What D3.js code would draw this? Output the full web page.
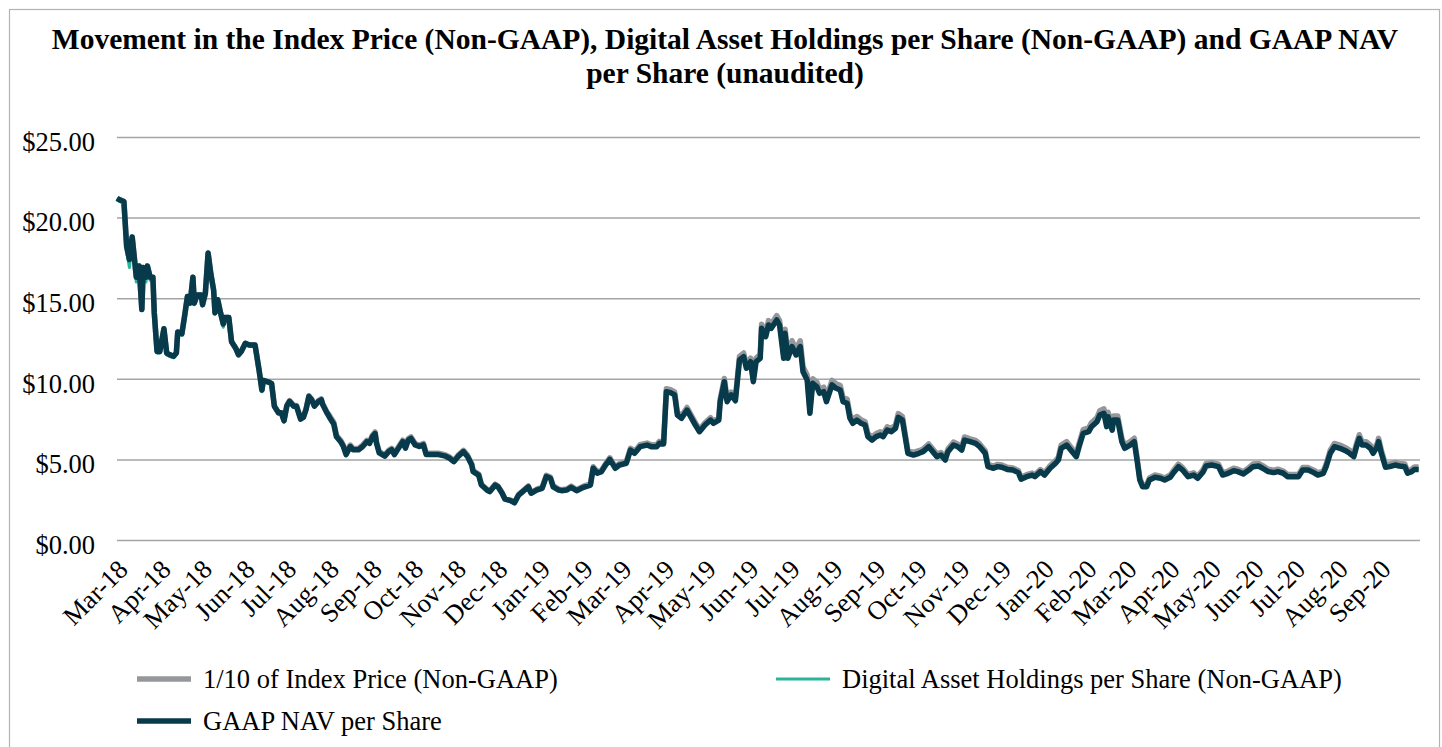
<!DOCTYPE html>
<html>
<head>
<meta charset="utf-8">
<script src="https://cdn.jsdelivr.net/npm/d3@7"></script>
<style>
  body { margin: 0; background: #fff; }
  svg { display: block; font-family: "Liberation Serif", "Times New Roman", serif; }
</style>
</head>
<body>
<svg id="chart" width="1442" height="747"></svg>
<script>
// ---- data ----
const dates = [
  // 2018
  "2018-03-01","2018-03-03","2018-03-06","2018-03-08","2018-03-10","2018-03-12","2018-03-15","2018-03-17","2018-03-19","2018-03-20","2018-03-22","2018-03-23","2018-03-25","2018-03-27","2018-03-28","2018-03-30",
  "2018-04-01","2018-04-04","2018-04-06","2018-04-08","2018-04-11","2018-04-13","2018-04-14","2018-04-17","2018-04-19","2018-04-21","2018-04-23","2018-04-25","2018-04-26","2018-04-28",
  "2018-05-01","2018-05-02","2018-05-04","2018-05-06","2018-05-08","2018-05-10","2018-05-11","2018-05-13","2018-05-15","2018-05-17","2018-05-18","2018-05-21","2018-05-23","2018-05-26","2018-05-28","2018-05-30",
  "2018-06-02","2018-06-05","2018-06-09","2018-06-12","2018-06-14","2018-06-15","2018-06-19","2018-06-21","2018-06-23","2018-06-26","2018-06-28","2018-06-30",
  "2018-07-02","2018-07-04","2018-07-07","2018-07-09","2018-07-12","2018-07-14","2018-07-16","2018-07-18","2018-07-20","2018-07-22","2018-07-25","2018-07-27","2018-07-28","2018-07-31",
  "2018-08-02","2018-08-05","2018-08-07","2018-08-10","2018-08-12","2018-08-14","2018-08-17","2018-08-19","2018-08-23","2018-08-26","2018-08-29","2018-08-31",
  "2018-09-02","2018-09-04","2018-09-05","2018-09-07","2018-09-11","2018-09-14","2018-09-16","2018-09-18","2018-09-21","2018-09-24","2018-09-26","2018-09-28","2018-09-30",
  "2018-10-03","2018-10-06","2018-10-09","2018-10-11","2018-10-15","2018-10-20","2018-10-25","2018-10-28","2018-10-31",
  "2018-11-03","2018-11-07","2018-11-10","2018-11-13","2018-11-14","2018-11-18","2018-11-20","2018-11-24","2018-11-26","2018-11-30",
  "2018-12-02","2018-12-05","2018-12-07","2018-12-11","2018-12-14","2018-12-17","2018-12-20","2018-12-24","2018-12-26","2018-12-30",
  // 2019
  "2019-01-03","2019-01-06","2019-01-09","2019-01-11","2019-01-15","2019-01-17","2019-01-21","2019-01-24","2019-01-28",
  "2019-02-02","2019-02-07","2019-02-09","2019-02-12","2019-02-15","2019-02-18","2019-02-21","2019-02-25","2019-02-28",
  "2019-03-05","2019-03-08","2019-03-11","2019-03-15","2019-03-20","2019-03-23","2019-03-27","2019-03-29",
  "2019-04-01","2019-04-03","2019-04-06","2019-04-09","2019-04-11","2019-04-14","2019-04-18","2019-04-20","2019-04-24","2019-04-27",
  "2019-05-01","2019-05-05","2019-05-07","2019-05-11","2019-05-12","2019-05-15","2019-05-17","2019-05-20","2019-05-23","2019-05-26","2019-05-29","2019-05-31",
  "2019-06-03","2019-06-05","2019-06-07","2019-06-10","2019-06-11","2019-06-14","2019-06-16","2019-06-18","2019-06-22","2019-06-24","2019-06-27","2019-06-28","2019-06-30",
  "2019-07-03","2019-07-06","2019-07-09","2019-07-11","2019-07-14","2019-07-16","2019-07-18","2019-07-21","2019-07-23","2019-07-26","2019-07-28",
  "2019-08-01","2019-08-04","2019-08-07","2019-08-09","2019-08-12","2019-08-14","2019-08-16","2019-08-19","2019-08-22","2019-08-25","2019-08-27","2019-08-30",
  "2019-09-02","2019-09-05","2019-09-07","2019-09-10","2019-09-13","2019-09-16","2019-09-18","2019-09-21","2019-09-23","2019-09-25","2019-09-29",
  "2019-10-03","2019-10-06","2019-10-10","2019-10-12","2019-10-16","2019-10-19","2019-10-22","2019-10-24","2019-10-28","2019-10-31",
  "2019-11-03","2019-11-05","2019-11-09","2019-11-13","2019-11-16","2019-11-20","2019-11-22","2019-11-26","2019-11-29",
  "2019-12-02","2019-12-06","2019-12-10","2019-12-14","2019-12-16","2019-12-20","2019-12-24","2019-12-26","2019-12-30",
  // 2020
  "2020-01-02","2020-01-06","2020-01-10","2020-01-12","2020-01-14","2020-01-18","2020-01-22","2020-01-25","2020-01-27","2020-01-30",
  "2020-02-03","2020-02-05","2020-02-09","2020-02-11","2020-02-14","2020-02-16","2020-02-17","2020-02-20","2020-02-21","2020-02-24","2020-02-27","2020-02-29",
  "2020-03-04","2020-03-07","2020-03-09","2020-03-11","2020-03-13","2020-03-16","2020-03-18","2020-03-22","2020-03-26","2020-03-29",
  "2020-04-02","2020-04-05","2020-04-08","2020-04-11","2020-04-15","2020-04-19","2020-04-22","2020-04-26","2020-04-28",
  "2020-05-02","2020-05-07","2020-05-10","2020-05-14","2020-05-18","2020-05-21","2020-05-25","2020-05-29",
  "2020-06-01","2020-06-05","2020-06-08","2020-06-12","2020-06-16","2020-06-19","2020-06-23","2020-06-26","2020-06-30",
  "2020-07-04","2020-07-07","2020-07-11","2020-07-15","2020-07-18","2020-07-22","2020-07-24","2020-07-27","2020-07-30",
  "2020-08-03","2020-08-07","2020-08-10","2020-08-13","2020-08-15","2020-08-17","2020-08-19","2020-08-22","2020-08-25","2020-08-27","2020-08-30","2020-08-31",
  "2020-09-02","2020-09-05","2020-09-08","2020-09-12","2020-09-15","2020-09-19","2020-09-21","2020-09-24","2020-09-26","2020-09-29"
];

// GAAP NAV per Share
const navPerShare = [
  21.2,21.1,21.0,18.2,17.4,18.8,16.3,17.0,14.3,16.9,16.3,17.0,16.3,16.3,14.1,11.7,
  11.7,13.1,11.6,11.5,11.4,11.6,12.9,12.8,13.9,15.1,14.7,16.3,14.7,15.2,
  15.2,14.6,15.3,17.8,16.5,15.5,14.1,14.9,14.1,13.4,13.8,13.8,12.3,11.9,11.5,11.7,
  12.2,12.1,12.1,10.5,9.3,9.9,9.8,9.7,8.3,7.9,7.9,7.4,
  8.3,8.6,8.3,8.3,7.5,7.6,8.1,8.9,8.7,8.3,8.6,8.7,8.4,7.9,
  7.6,7.2,6.4,6.1,5.8,5.3,5.8,5.6,5.6,5.8,6.1,6.0,
  6.4,6.6,6.0,5.4,5.2,5.5,5.6,5.3,5.7,6.1,5.7,6.2,6.3,
  5.9,5.8,5.9,5.3,5.3,5.3,5.2,5.07,4.86,
  5.17,5.48,5.17,4.65,4.24,4.03,3.41,3.10,3.0,3.41,
  3.3,2.9,2.54,2.44,2.31,2.79,3.0,3.3,2.9,3.1,
  3.2,3.93,3.83,3.3,3.1,3.06,3.1,3.27,3.06,
  3.27,3.41,4.45,4.14,4.24,4.65,5.0,4.45,4.65,
  4.76,5.58,5.38,5.79,5.89,5.79,5.79,6.0,
  5.96,9.2,9.14,9.0,7.75,7.55,8.06,7.75,7.13,6.72,
  7.13,7.44,7.24,7.44,8.58,9.82,8.58,9.0,8.64,11.17,11.37,10.65,
  11.06,9.82,11.06,11.27,13.13,12.61,13.34,13.13,13.65,13.34,11.27,12.82,11.27,
  12.0,11.48,12.0,10.44,9.93,7.86,9.72,9.51,9.1,9.2,8.58,
  9.62,9.41,9.3,8.58,8.48,7.55,7.24,7.44,7.24,7.13,6.41,6.2,
  6.41,6.51,6.41,6.82,6.72,6.93,7.61,7.44,6.41,5.38,5.27,
  5.38,5.48,5.79,5.58,5.17,5.27,4.96,5.48,5.89,5.79,
  5.58,6.2,6.1,6.0,5.79,5.38,4.55,4.45,4.55,
  4.51,4.38,4.34,4.18,3.77,3.93,4.03,3.93,4.24,
  4.03,4.45,4.76,4.96,5.69,5.89,5.48,5.17,5.79,6.62,
  6.72,7.03,7.34,7.75,7.86,7.03,7.65,6.82,7.44,7.44,6.1,5.69,
  5.89,6.1,4.96,3.72,3.31,3.31,3.72,3.89,3.83,3.72,
  3.89,4.24,4.55,4.34,3.93,4.03,3.83,4.24,4.59,
  4.65,4.55,4.03,4.14,4.3,4.24,4.1,4.34,
  4.55,4.59,4.45,4.24,4.18,4.24,4.14,3.93,3.93,
  3.93,4.34,4.34,4.18,4.03,4.14,4.55,5.38,5.79,
  5.69,5.54,5.38,5.17,5.79,6.31,5.89,5.89,5.69,5.38,5.79,6.1,
  5.38,4.51,4.55,4.65,4.59,4.55,4.14,4.24,4.38,4.38
];

// Digital Asset Holdings per Share (Non-GAAP)
const holdingsPerShare = [
  21.2,21.0,20.9,17.9,16.9,18.5,16.0,16.8,14.3,16.7,16.0,16.8,16.1,16.1,14.0,11.6,
  11.6,12.9,11.5,11.4,11.3,11.5,12.8,12.7,13.8,14.9,14.6,16.1,14.6,15.1,
  15.1,14.5,15.2,17.6,16.3,15.4,14.0,14.8,14.0,13.2,13.7,13.7,12.2,11.8,11.4,11.6,
  12.1,12.0,12.0,10.4,9.2,9.8,9.7,9.6,8.2,7.8,7.8,7.3,
  8.3,8.6,8.3,8.3,7.5,7.6,8.1,8.9,8.7,8.3,8.6,8.7,8.4,7.9,
  7.6,7.2,6.4,6.1,5.8,5.3,5.8,5.6,5.6,5.8,6.1,6.0,
  6.4,6.6,6.0,5.4,5.2,5.5,5.6,5.3,5.7,6.1,5.7,6.2,6.3,
  5.9,5.8,5.9,5.3,5.3,5.3,5.2,5.07,4.86,
  5.17,5.48,5.17,4.65,4.24,4.03,3.41,3.10,3.0,3.41,
  3.3,2.9,2.54,2.44,2.31,2.79,3.0,3.3,2.9,3.1,
  3.2,3.93,3.83,3.3,3.1,3.06,3.1,3.27,3.06,
  3.27,3.41,4.45,4.14,4.24,4.65,5.0,4.45,4.65,
  4.76,5.58,5.38,5.79,5.89,5.79,5.79,6.0,
  5.96,9.2,9.14,9.0,7.75,7.55,8.06,7.75,7.13,6.72,
  7.13,7.44,7.24,7.44,8.58,9.82,8.58,9.0,8.64,11.17,11.37,10.65,
  11.06,9.82,11.06,11.27,13.13,12.61,13.34,13.13,13.65,13.34,11.27,12.82,11.27,
  12.0,11.48,12.0,10.44,9.93,7.86,9.72,9.51,9.1,9.2,8.58,
  9.62,9.41,9.3,8.58,8.48,7.55,7.24,7.44,7.24,7.13,6.41,6.2,
  6.41,6.51,6.41,6.82,6.72,6.93,7.61,7.44,6.41,5.38,5.27,
  5.38,5.48,5.79,5.58,5.17,5.27,4.96,5.48,5.89,5.79,
  5.58,6.2,6.1,6.0,5.79,5.38,4.55,4.45,4.55,
  4.51,4.38,4.34,4.18,3.77,3.93,4.03,3.93,4.24,
  4.03,4.45,4.76,4.96,5.69,5.89,5.48,5.17,5.79,6.62,
  6.72,7.03,7.34,7.75,7.86,7.03,7.65,6.82,7.44,7.44,6.1,5.69,
  5.89,6.1,4.96,3.72,3.31,3.31,3.72,3.89,3.83,3.72,
  3.89,4.24,4.55,4.34,3.93,4.03,3.83,4.24,4.59,
  4.65,4.55,4.03,4.14,4.3,4.24,4.1,4.34,
  4.55,4.59,4.45,4.24,4.18,4.24,4.14,3.93,3.93,
  3.93,4.34,4.34,4.18,4.03,4.14,4.55,5.38,5.79,
  5.69,5.54,5.38,5.17,5.79,6.31,5.89,5.89,5.69,5.38,5.79,6.1,
  5.38,4.51,4.55,4.65,4.59,4.55,4.14,4.24,4.38,4.38
];

// 1/10 of Index Price (Non-GAAP)
const indexPriceTenth = [
  21.2,21.1,21.0,18.2,17.4,18.8,16.3,17.0,14.3,16.9,16.3,17.0,16.3,16.3,14.1,11.7,
  11.7,13.1,11.6,11.5,11.4,11.6,12.9,12.8,13.9,15.1,14.7,16.3,14.7,15.2,
  15.2,14.6,15.3,17.8,16.5,15.5,14.1,14.9,14.1,13.4,13.8,13.8,12.3,11.9,11.5,11.7,
  12.2,12.1,12.1,10.5,9.3,9.9,9.8,9.7,8.3,7.9,7.9,7.4,
  8.35,8.65,8.35,8.35,7.55,7.65,8.15,8.95,8.75,8.35,8.65,8.75,8.45,7.95,
  7.71,7.31,6.50,6.19,5.89,5.38,5.89,5.68,5.68,5.89,6.19,6.09,
  6.50,6.70,6.09,5.48,5.28,5.58,5.68,5.38,5.79,6.19,5.79,6.29,6.39,
  5.99,5.89,5.99,5.38,5.38,5.38,5.28,5.15,4.93,
  5.25,5.56,5.25,4.72,4.30,4.09,3.46,3.15,3.05,3.46,
  3.35,2.94,2.58,2.48,2.34,2.83,3.05,3.35,2.94,3.15,
  3.26,4.01,3.91,3.37,3.16,3.12,3.16,3.34,3.12,
  3.34,3.48,4.54,4.22,4.32,4.74,5.10,4.54,4.74,
  4.86,5.69,5.49,5.91,6.01,5.91,5.91,6.12,
  6.08,9.38,9.32,9.18,7.91,7.70,8.22,7.91,7.27,6.85,
  7.27,7.59,7.38,7.59,8.75,10.02,8.75,9.18,8.81,11.39,11.60,10.86,
  11.28,10.02,11.28,11.50,13.39,12.86,13.61,13.39,13.92,13.61,11.50,13.08,11.50,
  12.36,11.82,12.36,10.75,10.23,8.10,10.01,9.80,9.37,9.48,8.84,
  9.91,9.69,9.58,8.84,8.73,7.78,7.46,7.66,7.46,7.34,6.60,6.39,
  6.60,6.71,6.60,7.02,6.92,7.14,7.84,7.66,6.60,5.54,5.43,
  5.54,5.64,5.96,5.75,5.33,5.43,5.11,5.64,6.07,5.96,
  5.75,6.39,6.28,6.18,5.96,5.54,4.69,4.58,4.69,
  4.65,4.51,4.47,4.31,3.88,4.05,4.15,4.05,4.37,
  4.17,4.61,4.93,5.13,5.89,6.10,5.67,5.35,5.99,6.85,
  6.96,7.28,7.60,8.02,8.14,7.28,7.92,7.06,7.70,7.70,6.31,5.89,
  6.10,6.31,5.13,3.85,3.43,3.43,3.85,4.03,3.96,3.85,
  4.03,4.39,4.71,4.49,4.07,4.17,3.96,4.39,4.75,
  4.81,4.71,4.17,4.28,4.45,4.39,4.24,4.49,
  4.71,4.75,4.61,4.39,4.33,4.39,4.28,4.07,4.07,
  4.07,4.49,4.49,4.33,4.17,4.28,4.71,5.57,5.99,
  5.89,5.73,5.57,5.35,5.99,6.53,6.10,6.10,5.89,5.57,5.99,6.31,
  5.57,4.67,4.71,4.81,4.75,4.71,4.28,4.39,4.53,4.53
];

const yTicks = [0, 5, 10, 15, 20, 25];
const monthLabels = ["Mar-18","Apr-18","May-18","Jun-18","Jul-18","Aug-18","Sep-18","Oct-18","Nov-18","Dec-18",
  "Jan-19","Feb-19","Mar-19","Apr-19","May-19","Jun-19","Jul-19","Aug-19","Sep-19","Oct-19","Nov-19","Dec-19",
  "Jan-20","Feb-20","Mar-20","Apr-20","May-20","Jun-20","Jul-20","Aug-20","Sep-20"];
const seriesNames = ["1/10 of Index Price (Non-GAAP)", "Digital Asset Holdings per Share (Non-GAAP)", "GAAP NAV per Share"];
const titleLines = ["Movement in the Index Price (Non-GAAP), Digital Asset Holdings per Share (Non-GAAP) and GAAP NAV",
  "per Share (unaudited)"];

// ---- drawing ----
var svg = d3.select("#chart");
var parseDay = d3.timeParse("%Y-%m-%d");
var parseMonth = d3.timeParse("%b-%y");

var plot = {left: 117, right: 1420, top: 137, bottom: 540};

var x = d3.scaleTime()
  .domain([parseDay("2018-03-01"), parseDay("2020-09-30")])
  .range([plot.left, plot.right]);
var y = d3.scaleLinear().domain([0, 25]).range([plot.bottom, plot.top]);

// outer frame
svg.append("rect")
  .attr("x", 9.5).attr("y", 9.5)
  .attr("width", 1430).attr("height", 760)
  .attr("fill", "none").attr("stroke", "#b3b3b3").attr("stroke-width", 1.2);

// title
svg.append("g").selectAll("text")
  .data(titleLines)
  .enter().append("text")
  .attr("x", 725)
  .attr("y", function(d, i) { return 49 + i * 34; })
  .attr("text-anchor", "middle")
  .style("font-size", "29.5px")
  .style("font-weight", "bold")
  .attr("fill", "#000")
  .text(function(d) { return d; });

// gridlines
svg.append("g")
  .attr("transform", "translate(" + plot.left + ",0)")
  .call(d3.axisLeft(y).tickValues(yTicks).tickSize(-(plot.right - plot.left)).tickFormat(""))
  .call(function(g) { g.select(".domain").remove(); })
  .selectAll("line")
  .attr("stroke", "#a5a5a5")
  .attr("stroke-width", 1.5);

// y labels
var yAxis = svg.append("g")
  .attr("transform", "translate(" + plot.left + ",0)")
  .call(d3.axisLeft(y).tickValues(yTicks).tickSize(0).tickPadding(22).tickFormat(d3.format("$.2f")));
yAxis.select(".domain").remove();
yAxis.selectAll("text")
  .attr("dy", "0.5em")
  .style("font-size", "26.5px")
  .style("font-family", "'Liberation Serif', 'Times New Roman', serif")
  .attr("fill", "#000");

// x labels
var xAxis = svg.append("g")
  .attr("transform", "translate(0," + plot.bottom + ")")
  .call(d3.axisBottom(x)
    .tickValues(monthLabels.map(function(m) { return parseMonth(m); }))
    .tickSize(0)
    .tickFormat(d3.timeFormat("%b-%y")));
xAxis.select(".domain").remove();
xAxis.selectAll("text")
  .attr("x", 0).attr("y", 0).attr("dy", 0)
  .attr("text-anchor", "end")
  .attr("transform", "translate(12,31) rotate(-45)")
  .style("font-size", "26.5px")
  .style("font-family", "'Liberation Serif', 'Times New Roman', serif")
  .attr("fill", "#000");

// lines
var series = [
  {name: seriesNames[0], values: indexPriceTenth, color: "#95979a", width: 5.5},
  {name: seriesNames[1], values: holdingsPerShare, color: "#2bb39b", width: 3},
  {name: seriesNames[2], values: navPerShare, color: "#073a4b", width: 5.5}
];

var line = d3.line()
  .x(function(d) { return x(d.date); })
  .y(function(d) { return y(d.v); });

series.forEach(function(s) {
  var pts = dates.map(function(dt, i) { return {date: parseDay(dt), v: s.values[i]}; });
  svg.append("path")
    .datum(pts)
    .attr("fill", "none")
    .attr("stroke", s.color)
    .attr("stroke-width", s.width)
    .attr("stroke-linejoin", "round")
    .attr("d", line);
});

// legend
var legendPos = [[137, 679], [776, 679], [137, 721]];
var legend = svg.append("g").selectAll("g")
  .data(series)
  .enter().append("g")
  .attr("transform", function(d, i) { return "translate(" + legendPos[i][0] + "," + legendPos[i][1] + ")"; });
legend.append("line")
  .attr("x1", 0).attr("x2", 54)
  .attr("stroke", function(d) { return d.color; })
  .attr("stroke-width", function(d) { return d.width; });
legend.append("text")
  .attr("x", 66).attr("y", 9)
  .style("font-size", "26.5px")
  .attr("fill", "#000")
  .text(function(d) { return d.name; });
</script>
</body>
</html>
